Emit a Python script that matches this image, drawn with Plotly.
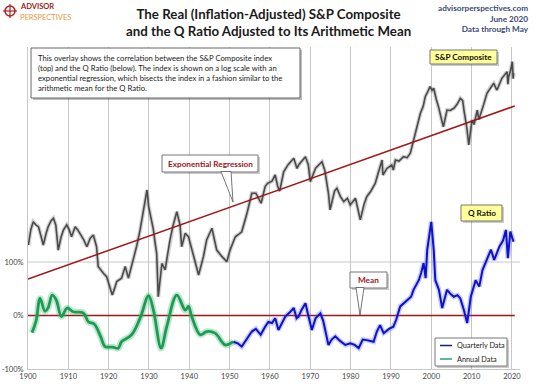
import plotly.graph_objects as go

# ---------------- data ----------------
sp_years = [1900.1, 1900.7, 1901.3, 1902.0, 1902.6, 1903.3, 1903.8, 1904.5, 1905.0, 1905.7, 1906.3, 1906.9,
            1907.5, 1908.2, 1908.8, 1909.6, 1910.2, 1910.8, 1911.7, 1912.3, 1912.9, 1913.8, 1914.6, 1915.4,
            1916.2, 1917.0, 1917.4, 1918.0, 1918.7, 1919.5, 1920.2, 1920.9, 1921.5, 1922.0, 1923.2, 1924.1,
            1924.9, 1925.5, 1926.1, 1927.0, 1927.8, 1928.6, 1929.5, 1929.9, 1930.3, 1931.1, 1931.5, 1931.9,
            1932.3, 1932.8, 1933.2, 1934.0, 1935.2, 1936.0, 1936.9, 1937.7, 1938.1, 1939.0, 1939.8, 1941.0,
            1942.3, 1943.5, 1944.3, 1945.6, 1946.2, 1946.8, 1948.1, 1949.3, 1950.1, 1951.4, 1952.2, 1953.0,
            1954.3, 1955.5, 1956.5, 1957.8, 1958.8, 1959.4, 1960.5, 1961.3, 1961.9, 1962.4, 1963.4, 1964.5,
            1965.9, 1966.7, 1967.1, 1968.8, 1969.5, 1970.0, 1971.3, 1972.9, 1973.6, 1974.5, 1974.9, 1976.0,
            1976.6, 1977.5, 1978.3, 1979.2, 1979.9, 1981.2, 1982.4, 1983.3, 1984.0, 1985.0, 1986.1, 1987.0,
            1987.8, 1988.0, 1989.0, 1990.2, 1990.6, 1991.1, 1992.0, 1993.1, 1994.0, 1994.8, 1996.0, 1996.6,
            1997.3, 1998.0, 1998.5, 1999.1, 1999.7, 2000.2, 2000.6, 2001.2, 2001.8, 2002.4, 2003.0, 2003.9,
            2004.7, 2005.6, 2006.4, 2007.2, 2007.8, 2008.1, 2008.8, 2009.3, 2010.1, 2010.6, 2011.4, 2011.8,
            2012.2, 2013.0, 2013.8, 2014.7, 2015.5, 2016.1, 2016.3, 2017.5, 2018.2, 2018.8, 2019.0, 2019.2,
            2019.7, 2020.1, 2020.3, 2020.4]
sp_real = [241, 300, 336, 320, 313, 270, 241, 285, 313, 340, 353, 320,
           224, 270, 299, 321, 300, 271, 313, 300, 285, 260, 235, 265,
           278, 235, 177, 168, 161, 153, 135, 118, 130, 143, 150, 177,
           150, 170, 194, 240, 299, 388, 529, 420, 379, 299, 250, 214,
           115, 160, 185, 169, 259, 320, 388, 321, 235, 285, 271, 209,
           157, 204, 259, 306, 260, 224, 204, 190, 224, 271, 280, 291,
           379, 505, 505, 438, 555, 582, 600, 656, 560, 520, 687, 760,
           833, 720, 756, 852, 760, 596, 722, 793, 700, 505, 398, 520,
           542, 480, 448, 470, 427, 470, 345, 430, 481, 520, 582, 700,
           812, 656, 720, 756, 704, 812, 800, 852, 840, 895, 1190, 1350,
           1584, 1750, 2009, 2150, 2318, 2200, 2266, 1950, 1742, 1500, 1308, 1660,
           1650, 1702, 1800, 1963, 1900, 1660, 1300, 1007, 1440, 1350, 1660, 1450,
           1547, 1800, 2109, 2300, 2434, 2250, 2211, 2614, 2750, 2873, 2400, 2673,
           2950, 3314, 2600, 2808]

reg_years = [1900.0, 2020.7]
reg_values = [148, 1760]

annual_years = [1901.0, 1902.0, 1903.0, 1904.2, 1905.0, 1906.0, 1907.0, 1908.3, 1909.7, 1911.2, 1913.7,
                1915.0, 1916.4, 1918.0, 1919.1, 1921.0, 1922.4, 1923.2, 1925.7, 1927.8, 1929.9, 1931.1,
                1933.0, 1934.4, 1936.9, 1939.0, 1939.8, 1940.6, 1942.7, 1944.3, 1946.4, 1948.9, 1950.9]
annual_q = [-32, -10, 32, 8, 15, 38, 29, -2, 14, 7, 5,
            -12, -16, -39, -58, -59, -61, -49, -36, -5, 37, 10,
            -61, -21, 38, 10, 17, -2, -36, -30, -33, -55, -49]

quarterly_years = [1950.9, 1952.0, 1953.0, 1954.2, 1955.5, 1956.5, 1957.7, 1958.8, 1959.6, 1960.5, 1961.3,
                   1962.1, 1963.0, 1963.8, 1964.8, 1965.9, 1966.6, 1967.1, 1967.8, 1968.8, 1969.5, 1970.4,
                   1971.3, 1972.5, 1973.2, 1974.5, 1975.3, 1976.2, 1977.3, 1978.7, 1979.9, 1981.0, 1982.0,
                   1983.0, 1984.0, 1985.7, 1986.5, 1987.3, 1988.2, 1989.5, 1990.6, 1991.3, 1992.3, 1993.0,
                   1994.0, 1995.0, 1995.6, 1996.9, 1997.5, 1998.1, 1998.6, 1999.0, 2000.0, 2000.6, 2001.0,
                   2001.9, 2002.7, 2003.9, 2004.8, 2005.6, 2006.5, 2007.2, 2008.1, 2008.9, 2009.8, 2011.0,
                   2011.9, 2012.7, 2013.8, 2014.8, 2015.6, 2016.9, 2017.8, 2018.5, 2019.0, 2019.6, 2020.0,
                   2020.4]
quarterly_q = [-49, -52, -58, -45, -30, -25, -36, -21, -12, -14, -5,
               -27, -12, -2, 5, 14, -5, -2, 10, 23, 0, -27,
               -5, 4, -10, -55, -45, -39, -47, -55, -52, -55, -61,
               -45, -46, -49, -30, -18, -33, -25, -21, -8, 17, 22,
               29, 35, 48, 66, 80, 98, 70, 123, 175, 123, 66,
               48, 14, 48, 40, 35, 38, 32, 10, -14, 35, 66,
               54, 85, 105, 123, 104, 129, 140, 160, 107, 157, 147,
               138]

mean_years = [1900.0, 2020.7]
mean_values = [0, 0]

x_ticks = [1900, 1910, 1920, 1930, 1940, 1950, 1960, 1970, 1980, 1990, 2000, 2010, 2020]
y_ticks = [-100, 0, 100]
y_tick_labels = ["-100%", "0%", "100%"]

# ---------------- layout helpers (pixel -> paper) ----------------
W, H = 536, 388
ML, MR, MT, MB = 28, 16, 47, 19
PW, PH = W - ML - MR, H - MT - MB


def px(x):
    return (x - ML) / PW


def py(y):
    return (H - MB - y) / PH


FONT = "Lato"
RED = "#a01515"
BLUE = "#1010c8"
GREEN = "#1f9a55"

fig = go.Figure()

# S&P composite (log scale, overlay axis)
fig.add_trace(go.Scatter(x=sp_years, y=sp_real, yaxis="y2", mode="lines",
                         line=dict(color="rgba(120,120,120,0.35)", width=4),
                         hoverinfo="skip", showlegend=False))
fig.add_trace(go.Scatter(x=sp_years, y=sp_real, yaxis="y2", mode="lines",
                         line=dict(color="#4a4a4a", width=1.6), name="S&P Composite"))
fig.add_trace(go.Scatter(x=reg_years, y=reg_values, yaxis="y2", mode="lines",
                         line=dict(color=RED, width=1.5), name="Exponential Regression"))

# Mean line
fig.add_trace(go.Scatter(x=mean_years, y=mean_values, mode="lines",
                         line=dict(color=RED, width=1.5), name="Mean"))

# Q ratio
fig.add_trace(go.Scatter(x=annual_years, y=annual_q, mode="lines", line_shape="spline",
                         line=dict(color="rgba(60,190,110,0.35)", width=6.5), hoverinfo="skip"))
fig.add_trace(go.Scatter(x=quarterly_years, y=quarterly_q, mode="lines",
                         line=dict(color="rgba(90,110,255,0.35)", width=5), hoverinfo="skip"))
fig.add_trace(go.Scatter(x=quarterly_years, y=quarterly_q, mode="lines",
                         line=dict(color=BLUE, width=2), name="Quarterly Data"))
fig.add_trace(go.Scatter(x=annual_years, y=annual_q, mode="lines", line_shape="spline",
                         line=dict(color=GREEN, width=2.8), name="Annual Data"))

annotations = []
shapes = []

# horizontal 100% grid line
shapes.append(dict(type="line", xref="paper", yref="y", x0=0, x1=1, y0=100, y1=100,
                   line=dict(color="#c8c8c8", width=1), layer="below"))

# Title
annotations.append(dict(xref="paper", yref="paper", x=px(268), y=py(4), xanchor="center", yanchor="top",
                        showarrow=False, align="center",
                        text="<b>The Real (Inflation-Adjusted) S&P Composite<br>and the Q Ratio Adjusted to Its Arithmetic Mean</b>",
                        font=dict(family=FONT, size=13.3, color="#1a1a1a")))
# Right header
annotations.append(dict(xref="paper", yref="paper", x=px(531), y=py(1), xanchor="right", yanchor="top",
                        showarrow=False, align="right",
                        text="<b>advisorperspectives.com<br>June 2020<br>Data through May</b>",
                        font=dict(family=FONT, size=8.2, color="#3a4a7a")))
# Logo
shapes.append(dict(type="circle", xref="paper", yref="paper", x0=px(5), x1=px(15), y0=py(16), y1=py(6),
                   line=dict(color="#b02020", width=1.5), fillcolor="rgba(0,0,0,0)"))
shapes.append(dict(type="line", xref="paper", yref="paper", x0=px(3), x1=px(17), y0=py(11), y1=py(11),
                   line=dict(color="#b02020", width=1.2)))
shapes.append(dict(type="line", xref="paper", yref="paper", x0=px(10), x1=px(10), y0=py(4), y1=py(18),
                   line=dict(color="#b02020", width=1.2)))
annotations.append(dict(xref="paper", yref="paper", x=px(18), y=py(7), xanchor="left", yanchor="middle",
                        showarrow=False, text="<b>ADVISOR</b>",
                        font=dict(family=FONT, size=7.5, color="#9b1b1b")))
annotations.append(dict(xref="paper", yref="paper", x=px(18), y=py(17.5), xanchor="left", yanchor="middle",
                        showarrow=False, text="PERSPECTIVES",
                        font=dict(family=FONT, size=7.5, color="#e8963c")))

# Description box (shadow + box + text)
shapes.append(dict(type="rect", xref="paper", yref="paper", x0=px(33), x1=px(302), y0=py(100), y1=py(50),
                   fillcolor="rgba(0,0,0,0.25)", line=dict(width=0)))
shapes.append(dict(type="rect", xref="paper", yref="paper", x0=px(31), x1=px(300), y0=py(98), y1=py(48),
                   fillcolor="white", line=dict(color="#666666", width=1)))
annotations.append(dict(xref="paper", yref="paper", x=px(36), y=py(51), xanchor="left", yanchor="top",
                        showarrow=False, align="left",
                        text="This overlay shows the correlation between the S&P Composite index<br>"
                             "(top) and the Q Ratio (below). The index is shown on a log scale with an<br>"
                             "exponential regression, which bisects the index in a fashion similar to the<br>"
                             "arithmetic mean for the Q Ratio.",
                        font=dict(family=FONT, size=7.7, color="#222222")))

# Exponential regression callout
shapes.append(dict(type="rect", xref="paper", yref="paper", x0=px(164), x1=px(260), y0=py(174), y1=py(157),
                   fillcolor="rgba(0,0,0,0.2)", line=dict(width=0)))
shapes.append(dict(type="rect", xref="paper", yref="paper", x0=px(162), x1=px(258), y0=py(172), y1=py(155),
                   fillcolor="white", line=dict(color="#777777", width=1)))
shapes.append(dict(type="path", xref="paper", yref="paper",
                   path=f"M {px(221)} {py(171.5)} L {px(233)} {py(202)} L {px(231)} {py(171.5)} Z",
                   fillcolor="white", line=dict(color="#555555", width=0.8)))
annotations.append(dict(xref="paper", yref="paper", x=px(210), y=py(163.5), xanchor="center", yanchor="middle",
                        showarrow=False, text="<b>Exponential Regression</b>",
                        font=dict(family=FONT, size=8.2, color=RED)))

# Mean callout
shapes.append(dict(type="rect", xref="paper", yref="paper", x0=px(352), x1=px(389), y0=py(290), y1=py(274),
                   fillcolor="rgba(0,0,0,0.2)", line=dict(width=0)))
shapes.append(dict(type="rect", xref="paper", yref="paper", x0=px(350), x1=px(387), y0=py(288), y1=py(272),
                   fillcolor="white", line=dict(color="#777777", width=1)))
shapes.append(dict(type="path", xref="paper", yref="paper",
                   path=f"M {px(356)} {py(287.5)} L {px(360)} {py(315)} L {px(364)} {py(287.5)} Z",
                   fillcolor="white", line=dict(color="#555555", width=0.8)))
annotations.append(dict(xref="paper", yref="paper", x=px(368.5), y=py(280), xanchor="center", yanchor="middle",
                        showarrow=False, text="<b>Mean</b>",
                        font=dict(family=FONT, size=8.2, color=RED)))

# Series labels
for (x0, x1, y0, y1, label) in [(430, 497, 50, 64, "S&P Composite"), (461, 502, 205, 221, "Q Ratio")]:
    shapes.append(dict(type="rect", xref="paper", yref="paper", x0=px(x0 + 2), x1=px(x1 + 2),
                       y0=py(y1 + 2), y1=py(y0 + 2), fillcolor="rgba(0,0,0,0.2)", line=dict(width=0)))
    shapes.append(dict(type="rect", xref="paper", yref="paper", x0=px(x0), x1=px(x1), y0=py(y1), y1=py(y0),
                       fillcolor="#ffff99", line=dict(color="#777777", width=1)))
    annotations.append(dict(xref="paper", yref="paper", x=px((x0 + x1) / 2), y=py((y0 + y1) / 2),
                            xanchor="center", yanchor="middle", showarrow=False, text=f"<b>{label}</b>",
                            font=dict(family=FONT, size=8.2, color="#111111")))

# Legend (drawn manually to match compact box)
shapes.append(dict(type="rect", xref="paper", yref="paper", x0=px(437), x1=px(509), y0=py(368), y1=py(340),
                   fillcolor="rgba(0,0,0,0.2)", line=dict(width=0)))
shapes.append(dict(type="rect", xref="paper", yref="paper", x0=px(435), x1=px(507), y0=py(366), y1=py(338),
                   fillcolor="white", line=dict(color="#777777", width=1)))
for (yy, col, label) in [(345.5, "#1a1a80", "Quarterly Data"), (359, "#2aa07a", "Annual Data")]:
    shapes.append(dict(type="line", xref="paper", yref="paper", x0=px(440), x1=px(452), y0=py(yy), y1=py(yy),
                       line=dict(color=col, width=1.5)))
    annotations.append(dict(xref="paper", yref="paper", x=px(455), y=py(yy), xanchor="left", yanchor="middle",
                            showarrow=False, text=label,
                            font=dict(family=FONT, size=7.3, color="#222222")))

fig.update_layout(
    width=W, height=H,
    margin=dict(l=ML, r=MR, t=MT, b=MB, autoexpand=False),
    paper_bgcolor="white", plot_bgcolor="white",
    font=dict(family=FONT, size=8, color="#444444"),
    showlegend=False,
    hovermode=False,
    xaxis=dict(range=[1900, 2022], tickmode="array", tickvals=x_ticks, ticks="", automargin=False,
               showgrid=True, gridcolor="#c8c8c8", gridwidth=1,
               showline=True, linecolor="#c8c8c8", zeroline=False,
               tickfont=dict(family=FONT, size=7.5, color="#444444")),
    yaxis=dict(range=[-100, 502], tickmode="array", tickvals=y_ticks, ticktext=y_tick_labels,
               automargin=False, showgrid=False, zeroline=False, showline=True, linecolor="#c8c8c8",
               ticks="", ticklabelstandoff=2,
               tickfont=dict(family=FONT, size=7.5, color="#444444")),
    yaxis2=dict(type="log", range=[1.6117, 3.6117], overlaying="y", showgrid=False, automargin=False,
                showticklabels=False, zeroline=False, showline=False),
    annotations=annotations,
    shapes=shapes,
)

fig.write_html("out.html", config={"displayModeBar": False, "staticPlot": True},
               post_script="document.body.style.margin='0';document.body.style.overflow='hidden';")
